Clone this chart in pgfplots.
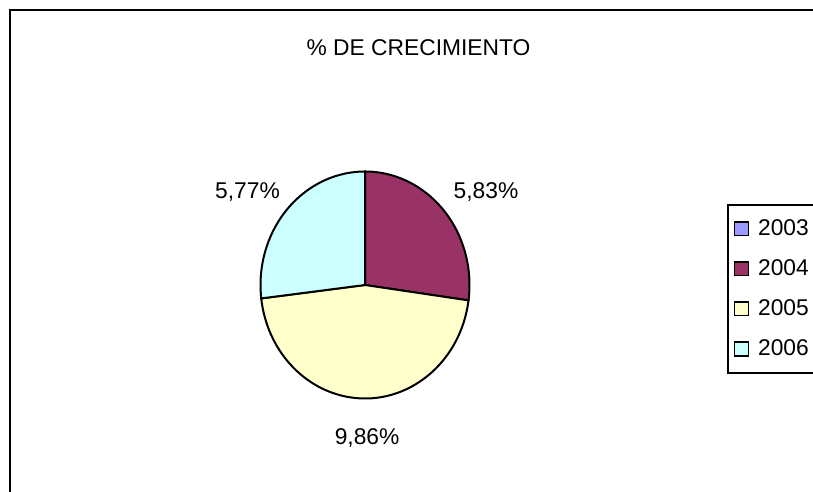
\documentclass[border=0pt]{standalone}
\usepackage{pgfplots}
\pgfplotsset{compat=1.18}
\usepackage{pgfplotstable}
\usepackage{fontspec}
\setmainfont{Liberation Sans}

\definecolor{col0}{HTML}{9999FF}
\definecolor{col1}{HTML}{993366}
\definecolor{col2}{HTML}{FFFFCC}
\definecolor{col3}{HTML}{CCFFFF}

% growth per year, label position in axis units
\pgfplotstableread{
year value lx ly
2003 0 0 0
2004 5.83 1.158 0.819
2005 9.86 0.02 -1.348
2006 5.77 -1.124 0.819
}\growth

\begin{document}
\begin{tikzpicture}[font=\fontsize{11.4}{13.5}\selectfont]
\useasboundingbox (0,0) rectangle (406.5pt,246pt);
\clip (0,0) rectangle (406.5pt,246pt);
% slice angles, clockwise from 12 o'clock
\xdef\total{0}
\foreach \i in {0,...,3}{
  \pgfplotstablegetelem{\i}{value}\of\growth
  \pgfmathsetmacro\t{\total+\pgfplotsretval}
  \xdef\total{\t}}
\xdef\cur{90}
\foreach \i in {0,...,3}{
  \pgfplotstablegetelem{\i}{value}\of\growth
  \expandafter\xdef\csname v\i\endcsname{\pgfplotsretval}
  \pgfmathsetmacro\e{\cur-360*\pgfplotsretval/\total}
  \expandafter\xdef\csname sa\i\endcsname{\cur}
  \expandafter\xdef\csname ea\i\endcsname{\e}
  \xdef\cur{\e}
  \pgfplotstablegetelem{\i}{lx}\of\growth
  \expandafter\xdef\csname lx\i\endcsname{\pgfplotsretval}
  \pgfplotstablegetelem{\i}{ly}\of\growth
  \expandafter\xdef\csname ly\i\endcsname{\pgfplotsretval}}

\draw[line width=1pt] (5pt,-20pt) rectangle (430pt,241pt);
\node at (209.25pt,222pt) {\% DE CRECIMIENTO};

\begin{axis}[
  at={(182.5pt,103.5pt)}, anchor=center,
  scale only axis, width=104.5pt, height=113.5pt,
  xmin=-1, xmax=1, ymin=-1, ymax=1,
  hide axis, clip=false,
  /pgf/number format/assume math mode=true,
  legend image code/.code={\draw[#1, line width=0.75pt] (0pt,-3.4pt) rectangle (6.8pt,3.4pt);},
  legend style={at={(axis description cs:2.232,0.857)}, anchor=north west,
    draw=black, line width=1pt, inner xsep=3pt, inner ysep=5.6pt,
    row sep=7.6pt, font=\fontsize{11.4}{13.5}\selectfont,
    nodes={inner ysep=1.5pt, inner xsep=4.5pt, anchor=west}},
]
\pgfplotsinvokeforeach{0,...,3}{
  \fill[fill=col#1, draw=black, line width=1pt] (axis cs:0,0)
    -- (axis cs:{cos(\csname sa#1\endcsname)},{sin(\csname sa#1\endcsname)})
    arc[start angle=\csname sa#1\endcsname, end angle=\csname ea#1\endcsname,
        x radius=52.25pt, y radius=56.75pt] -- cycle;
}
\pgfplotsinvokeforeach{1,2,3}{
  \node at (axis cs:\csname lx#1\endcsname,\csname ly#1\endcsname)
    {\pgfmathprintnumber[fixed, fixed zerofill, precision=2, use comma]{\csname v#1\endcsname}\%};
}
\addlegendimage{fill=col0, draw=black}
\addlegendentry{2003}
\addlegendimage{fill=col1, draw=black}
\addlegendentry{2004}
\addlegendimage{fill=col2, draw=black}
\addlegendentry{2005}
\addlegendimage{fill=col3, draw=black}
\addlegendentry{2006}
\end{axis}
\end{tikzpicture}
\end{document}
